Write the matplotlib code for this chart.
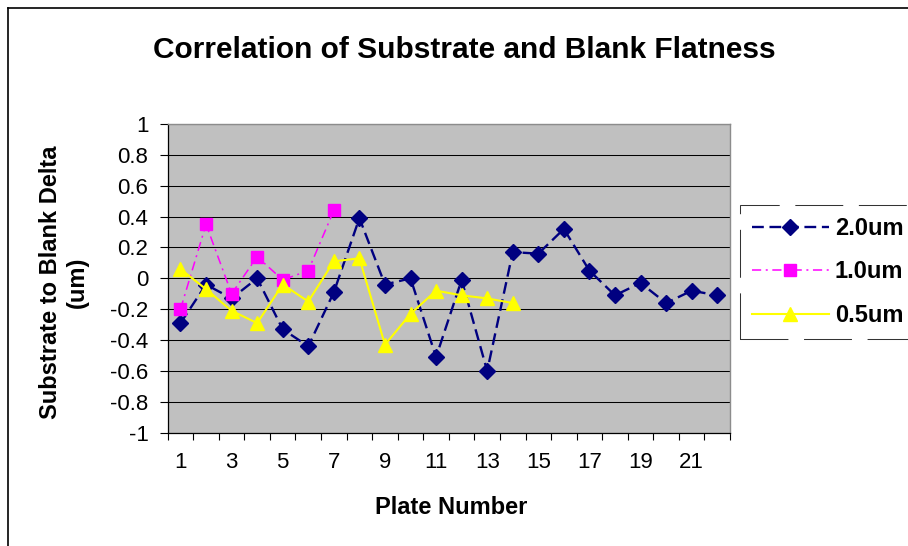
import matplotlib
matplotlib.use("Agg")
import matplotlib.pyplot as plt
from matplotlib.lines import Line2D
import numpy as np

plt.rcParams['font.family'] = ['Liberation Sans', 'DejaVu Sans']

title = "Correlation of Substrate and Blank Flatness"
x_label = "Plate Number"
y_label = "Substrate to Blank Delta\n(um)"

plates = list(range(1, 23))
series_names = ["2.0um", "1.0um", "0.5um"]
vals_20 = [-0.29, -0.04, -0.13, 0.00, -0.33, -0.44, -0.09, 0.39, -0.04, 0.00, -0.51,
           -0.01, -0.60, 0.17, 0.16, 0.32, 0.05, -0.11, -0.03, -0.16, -0.08, -0.11]
vals_10 = [-0.20, 0.35, -0.10, 0.14, -0.01, 0.05, 0.44]
vals_05 = [0.06, -0.07, -0.21, -0.29, -0.04, -0.15, 0.11, 0.13, -0.43, -0.23, -0.08,
           -0.11, -0.13, -0.16]
y_ticks = [-1, -0.8, -0.6, -0.4, -0.2, 0, 0.2, 0.4, 0.6, 0.8, 1]
y_tick_labels = ["-1", "-0.8", "-0.6", "-0.4", "-0.2", "0", "0.2", "0.4", "0.6", "0.8", "1"]
x_tick_labels = ["1", "3", "5", "7", "9", "11", "13", "15", "17", "19", "21"]

W, H = 908, 546
fig = plt.figure(figsize=(W / 100, H / 100), dpi=100)
fig.patch.set_facecolor("white")

ax_l, ax_r, ax_t, ax_b = 167.7, 730.0, 124.0, 432.7
ax = fig.add_axes([ax_l / W, 1 - ax_b / H, (ax_r - ax_l) / W, (ax_b - ax_t) / H])
ax.set_facecolor("#C0C0C0")
ax.set_axisbelow(True)

l20, = ax.plot(plates[:len(vals_20)], vals_20, color="#000080", lw=1.7,
               linestyle=(0, (5, 2.4)), marker="D", ms=8, mfc="#000080",
               mec="#000080", label=series_names[0], zorder=3)
l10, = ax.plot(plates[:len(vals_10)], vals_10, color="#FF00FF", lw=1.1,
               linestyle=(0, (6, 3, 1.3, 3)), marker="s", ms=8, mfc="#FF00FF",
               mec="#FF00FF", label=series_names[1], zorder=4)
l05, = ax.plot(plates[:len(vals_05)], vals_05, color="#FFFF00", lw=1.5,
               linestyle="-", marker="^", ms=10.5, mfc="#FFFF00",
               mec="#FFFF00", label=series_names[2], zorder=5)

ax.set_xlim(0.5, 22.5)
ax.set_ylim(-1, 1)
ax.set_yticks(y_ticks)
ax.set_yticklabels(y_tick_labels)
ax.yaxis.grid(True, color="black", lw=0.75)

# category boundaries as major ticks, labels on minor ticks
ax.set_xticks(np.arange(0.5, 23, 1.0))
ax.set_xticklabels([])
ax.set_xticks([int(s) for s in x_tick_labels], minor=True)
ax.set_xticklabels(x_tick_labels, minor=True)
ax.tick_params(axis="x", which="major", direction="out", length=5.2, width=0.8, color="black")
ax.tick_params(axis="x", which="minor", length=0, pad=14, labelsize=16)
ax.tick_params(axis="y", direction="out", length=5.5, width=0.8, color="black", pad=8.4, labelsize=16)

for s in ["top", "right"]:
    ax.spines[s].set_color("#8C8C8C")
    ax.spines[s].set_linewidth(1.0)
for s in ["left", "bottom"]:
    ax.spines[s].set_color("black")
    ax.spines[s].set_linewidth(0.9)

fig.text(464 / W, 1 - 58.3 / H, title, ha="center", va="baseline",
         fontsize=21.5, fontweight="bold")
fig.text(451 / W, 1 - 514 / H, x_label, ha="center", va="baseline",
         fontsize=17, fontweight="bold")
fig.text(64 / W, 1 - 282.5 / H, y_label, ha="center", va="center", rotation=90,
         fontsize=17, fontweight="bold", multialignment="center", linespacing=1.2)

leg = fig.legend(handles=[l20, l10, l05], loc="upper left",
                 bbox_to_anchor=(740 / W, 1 - 205 / H), bbox_transform=fig.transFigure,
                 borderaxespad=0, frameon=True, fancybox=False, numpoints=1,
                 handlelength=3.26, handletextpad=0.25, borderpad=0.5,
                 labelspacing=0.87, prop={"weight": "bold", "size": 17})
fr = leg.get_frame()
fr.set_edgecolor("black")
fr.set_linewidth(0.75)
fr.set_linestyle((0, (46, 15)))
fr.set_facecolor("white")

# outer chart border (top and left visible in crop)
fig.add_artist(Line2D([8 / W, 8 / W], [0, 1 - 8 / H], transform=fig.transFigure,
                      color="black", lw=1.2))
fig.add_artist(Line2D([8 / W, 1], [1 - 8 / H, 1 - 8 / H], transform=fig.transFigure,
                      color="black", lw=1.2))

fig.savefig("out.png", dpi=100)
